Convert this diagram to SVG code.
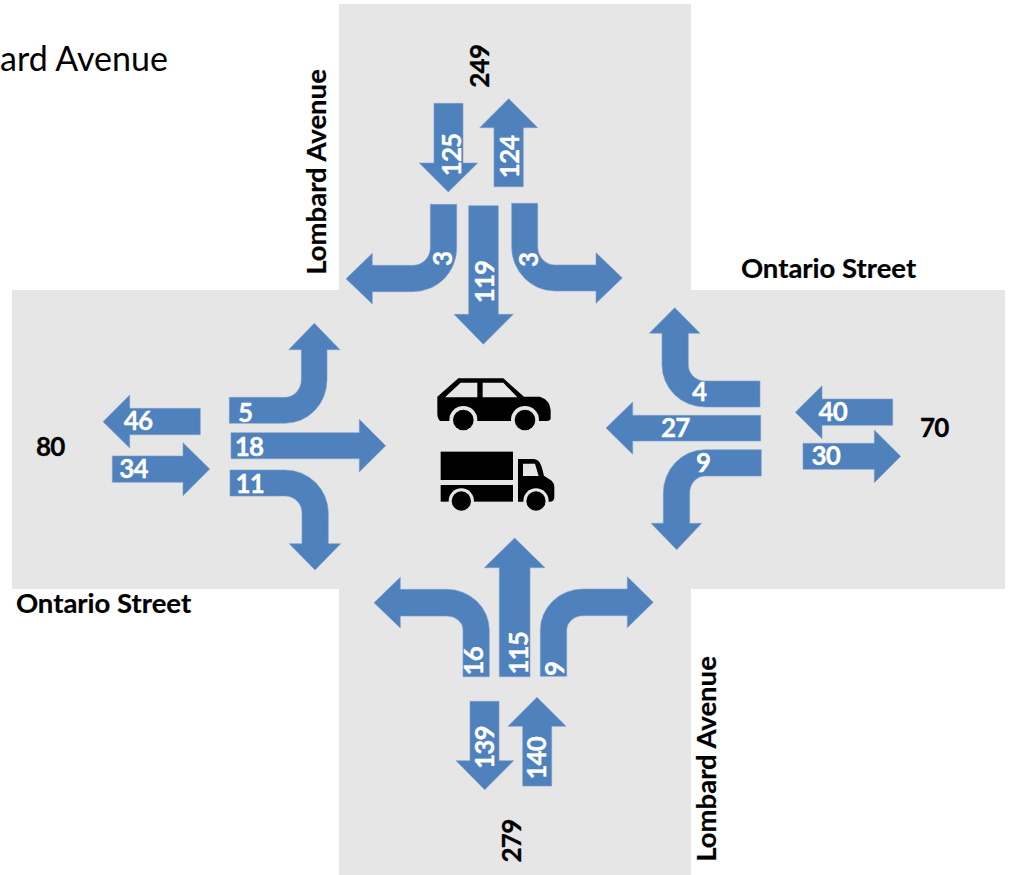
<svg xmlns="http://www.w3.org/2000/svg" width="1012" height="875" viewBox="0 0 1012 875">
<style>
text{font-family:"Lato","Liberation Sans",sans-serif;font-weight:700;text-anchor:middle}
.n{fill:#fff;font-size:26px;letter-spacing:-.9px;stroke:#fff;stroke-width:.3}
.k{fill:#000;font-size:26px;letter-spacing:-.7px;stroke:#000;stroke-width:.3}
.s{fill:#000;font-size:27.5px;stroke:#000;stroke-width:.2}
.a{fill:#4f81bd;stroke:#7d9fca;stroke-width:.6}
.bg{fill:#e6e6e6}
</style>
<rect width="1012" height="875" fill="#fff"/>
<g id="roads">
<rect class="bg" x="339" y="4" width="352" height="871"/>
<rect class="bg" x="12" y="290" width="993" height="299"/>
</g>
<g id="connectors">
<path id="a125" class="a" d="M434 103.3H463V163H477.7L448.3 192L419.3 163H434Z"/>
<path id="a124" class="a" d="M494 186.7V127.7H479.7L508.7 98.7L537.7 127.7H523.3V186.7Z"/>
<path id="a3l" class="a" d="M430.3 204.3H456.7V248A43.7 43.7 0 0 1 413 291.7H372.3V304L346 278.7L372.3 253.3V265.3H413A17.3 17.3 0 0 0 430.3 248Z"/>
<path id="a119" class="a" d="M468.7 205.7H498.3V314.3H513.3L483.3 344.3L454 314.3H468.7Z"/>
<path id="a3r" class="a" d="M511.7 203.3H537.7V247A17.3 18 0 0 0 555 265H596V252.7L622.3 278L596 303.3V291H555A43.3 44 0 0 1 511.7 247Z"/>
<path id="a5" class="a" d="M229.3 397.3H285A16.3 17.3 0 0 0 301.3 380V349.7H288.7L314.3 323.3L340 349.7H327V380A42 43.3 0 0 1 285 423.3H229.3Z"/>
<path id="a18" class="a" d="M231 432.7H359.3V419.3L385.7 445.7L359.3 472V458.7H231Z"/>
<path id="a11" class="a" d="M230 470H285A43.3 43 0 0 1 328.3 513V543.7H340.7L315 570L289.3 543.7H302V513A17 17 0 0 0 285 496H230Z"/>
<path id="a46" class="a" d="M200.3 408.3H129.7V395L103 421.7L129.7 448V434.7H200.3Z"/>
<path id="a34" class="a" d="M112.3 456H183V442.7L209.7 469L183 495.7V482.3H112.3Z"/>
<path id="a4" class="a" d="M760 381H705A16.7 16 0 0 1 688.3 365V333.3H700L674.7 307.7L649.3 333.3H662V365A43 42 0 0 0 705 407H760Z"/>
<path id="a27" class="a" d="M760.7 415.3H632.7V402L606 428L632.7 454.3V441H760.7Z"/>
<path id="a9e" class="a" d="M761.3 449.7H705A41.7 43.3 0 0 0 663.3 493V523.3H651L676.7 549.7L701.7 523.3H689.7V493A15.3 17 0 0 1 705 476H761.3Z"/>
<path id="a40" class="a" d="M892.7 399H822V385.7L795.3 412.3L822 438.7V425.3H892.7Z"/>
<path id="a30" class="a" d="M803 443.3H874.3V430L900.7 456.3L874.3 482.7V469.3H803Z"/>
<path id="a115" class="a" d="M499.3 676.7V567.7H484.3L514.7 538L545 567.7H530V676.7Z"/>
<path id="a16" class="a" d="M463 676.7H489.3V630A42.6 40.7 0 0 0 446.7 589.3H400.3V577.3L374 602.7L400.3 628V616H446.7A16.3 14 0 0 1 463 630Z"/>
<path id="a9s" class="a" d="M540.3 676.3H566.7V630A16.6 14.3 0 0 1 583.3 615.7H627.3V627.7L653.3 602.3L627.3 576.7V589H583.3A43 41 0 0 0 540.3 630Z"/>
<path id="a139" class="a" d="M470 701.3H499V760.7H513.7L484.7 789.7L456 760.7H470Z"/>
<path id="a140" class="a" d="M522.7 786V726.3H508L537 697.3L566 726.3H551.7V786Z"/>
</g>
<g id="car" transform="translate(420 360) scale(.3333)">
<path d="M52 110L115 55H250L312 110H360Q390 120 392 150V175Q392 183 380 183H60Q52 175 52 160Z"/>
<path class="bg" d="M75 112L122 68H172V112ZM188 68H250L292 112H188Z"/>
<circle class="bg" cx="130" cy="180" r="42"/><circle class="bg" cx="315" cy="180" r="42"/>
<rect class="bg" x="85" y="184" width="90" height="40"/><rect class="bg" x="270" y="184" width="90" height="40"/>
<circle cx="130" cy="180" r="31"/><circle cx="315" cy="180" r="31"/>
</g>
<g id="truck" transform="translate(420 360) scale(.3333)">
<rect x="62" y="275" width="217" height="85"/>
<rect x="62" y="375" width="217" height="50"/>
<path d="M294 297H340Q358 297 365 320L372 347L395 362Q403 370 403 380V410Q403 425 390 425H294Z"/>
<path class="bg" d="M309 311H345L356 348H309Z"/>
<circle class="bg" cx="124" cy="423" r="38"/><circle class="bg" cx="348" cy="423" r="38"/>
<rect class="bg" x="80" y="426" width="90" height="35"/><rect class="bg" x="305" y="426" width="90" height="35"/>
<circle cx="124" cy="423" r="29"/><circle cx="348" cy="423" r="29"/>
</g>
<g id="labels">
<text x="84" y="71" style="font-weight:400;font-size:34px;fill:#000">ard Avenue</text>
<text class="s" x="828.5" y="278">Ontario Street</text>
<text class="s" x="103.5" y="613">Ontario Street</text>
<text class="s" transform="translate(326 172) rotate(-90)">Lombard Avenue</text>
<text class="s" transform="translate(716 759) rotate(-90)">Lombard Avenue</text>
<text class="k" transform="translate(489.3 66.3) rotate(-90)">249</text>
<text class="k" x="50.3" y="456">80</text>
<text class="k" x="934.3" y="436.7">70</text>
<text class="k" transform="translate(521 841) rotate(-90)">279</text>
<text class="n" transform="translate(460.7 155) rotate(-90)">125</text>
<text class="n" transform="translate(518.7 157) rotate(-90)">124</text>
<text class="n" transform="translate(451.7 259) rotate(-90)">3</text>
<text class="n" transform="translate(494.3 282) rotate(-90)">119</text>
<text class="n" transform="translate(538.3 260) rotate(-90)">3</text>
<text class="n" x="245" y="421.7">5</text>
<text class="n" x="249" y="455.7">18</text>
<text class="n" x="249.7" y="492.7">11</text>
<text class="n" x="138" y="430">46</text>
<text class="n" x="133.5" y="477.7">34</text>
<text class="n" x="699" y="401">4</text>
<text class="n" x="675.2" y="437.3">27</text>
<text class="n" x="703" y="471.7">9</text>
<text class="n" x="832.7" y="420.7">40</text>
<text class="n" x="825.8" y="465">30</text>
<text class="n" transform="translate(482.7 661.3) rotate(-90)">16</text>
<text class="n" transform="translate(528.3 653.3) rotate(-90)">115</text>
<text class="n" transform="translate(564 668.8) rotate(-90)">9</text>
<text class="n" transform="translate(493.7 747.7) rotate(-90)">139</text>
<text class="n" transform="translate(546 758.3) rotate(-90)">140</text>
</g>
</svg>
